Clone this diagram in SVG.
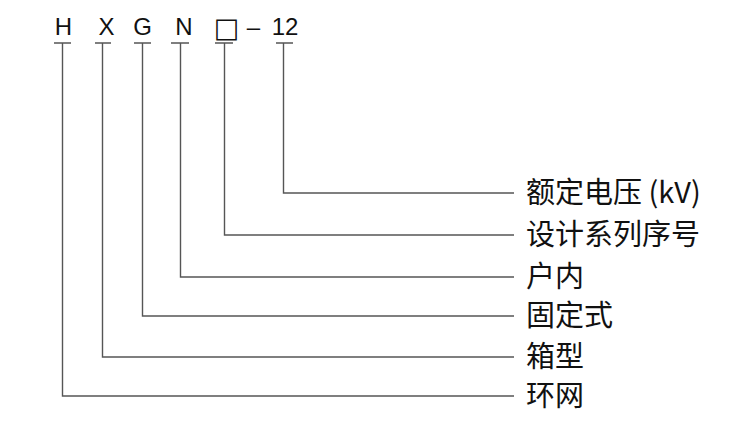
<svg xmlns="http://www.w3.org/2000/svg" width="744" height="437" viewBox="0 0 744 437">
<style>
.code{font-family:"Liberation Sans",Arial,sans-serif;font-size:24px;fill:#111;text-anchor:middle}
.box{font-family:"DejaVu Sans",sans-serif;font-size:27px;fill:#111;text-anchor:middle}
.lbl{font-family:"Noto Sans CJK SC",sans-serif;font-size:29px;fill:#111}
.ln{stroke:#555;stroke-width:1.4;fill:none}
</style>
<rect width="744" height="437" fill="#fff"/>
<g id="code">
<text class="code" x="63.5" y="35">H</text>
<text class="code" x="106.5" y="35">X</text>
<text class="code" x="142.5" y="35">G</text>
<text class="code" x="184" y="35">N</text>
<text class="box" x="226.5" y="37">□</text>
<text class="code" x="253.5" y="35">–</text>
<text class="code" x="285" y="35">12</text>
</g>
<g id="connectors">
<path class="ln" d="M54,43H71M62.5,43V396H514"/>
<path class="ln" d="M95,43H111M102.5,43V357H514"/>
<path class="ln" d="M134,43H151M142.5,43V316H514"/>
<path class="ln" d="M171,43H189M180.5,43V277H514"/>
<path class="ln" d="M215,43H233M224.5,43V235H514"/>
<path class="ln" d="M276,43H293M283.5,43V193H514"/>
</g>
<g id="n1"><text class="lbl" x="526" y="203">额定电压 (kV)</text></g>
<g id="n2"><text class="lbl" x="526" y="245">设计系列序号</text></g>
<g id="n3"><text class="lbl" x="526" y="287">户内</text></g>
<g id="n4"><text class="lbl" x="526" y="326">固定式</text></g>
<g id="n5"><text class="lbl" x="526" y="367">箱型</text></g>
<g id="n6"><text class="lbl" x="526" y="406">环网</text></g>
</svg>
